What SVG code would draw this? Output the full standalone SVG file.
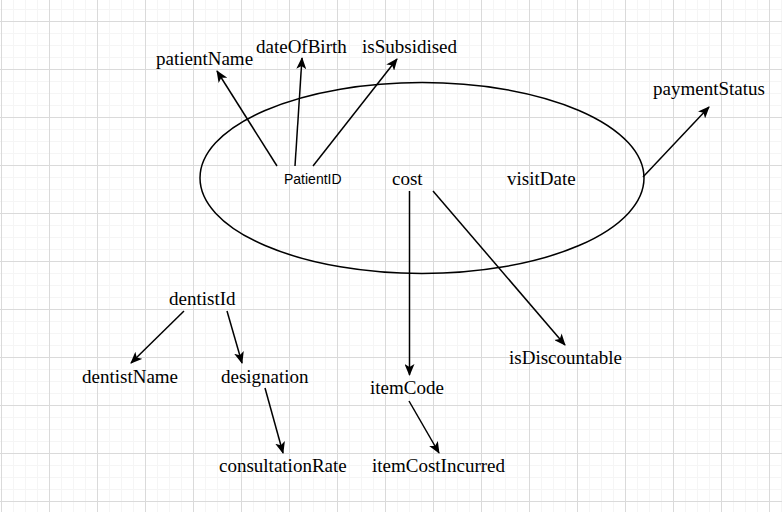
<svg xmlns="http://www.w3.org/2000/svg" width="782" height="512" viewBox="0 0 782 512">
<style>
.t{font-family:"Liberation Serif","Times New Roman",serif;font-size:19px;fill:#000}
.s{font-family:"Liberation Sans",Arial,sans-serif;font-size:14px;fill:#000}
.e{stroke:#000;stroke-width:1.5;fill:none;marker-end:url(#arr)}
</style>
<defs>
<marker id="arr" markerUnits="userSpaceOnUse" viewBox="0 0 12 10" markerWidth="12" markerHeight="10" refX="11" refY="5" orient="auto">
<path d="M0,0 L12,5 L0,10 L3,5 Z" fill="#000"/>
</marker>
<pattern id="grid" patternUnits="userSpaceOnUse" x="1" y="21" width="48" height="48">
<rect x="12" y="0" width="1" height="48" fill="#f5f5f5"/>
<rect x="24" y="0" width="1" height="48" fill="#f5f5f5"/>
<rect x="36" y="0" width="1" height="48" fill="#f5f5f5"/>
<rect x="0" y="12" width="48" height="1" fill="#f5f5f5"/>
<rect x="0" y="24" width="48" height="1" fill="#f5f5f5"/>
<rect x="0" y="36" width="48" height="1" fill="#f5f5f5"/>
<rect x="0" y="0" width="1" height="48" fill="#dadada"/>
<rect x="0" y="0" width="48" height="1" fill="#dadada"/>
</pattern>
</defs>
<rect width="782" height="512" fill="#fff"/>
<rect width="782" height="512" fill="url(#grid)"/>
<g id="visit"><ellipse cx="422" cy="178" rx="222" ry="95.5" fill="none" stroke="#000" stroke-width="1.5"/></g>
<g id="connectors">
<line class="e" x1="277" y1="166" x2="217" y2="71"/>
<line class="e" x1="295" y1="166" x2="302" y2="58"/>
<line class="e" x1="313" y1="166" x2="397" y2="59"/>
<line class="e" x1="409.5" y1="191" x2="409.5" y2="375"/>
<line class="e" x1="433" y1="191" x2="565" y2="345"/>
<line class="e" x1="643" y1="177" x2="709" y2="107"/>
<line class="e" x1="184" y1="311" x2="131" y2="363"/>
<line class="e" x1="227" y1="311" x2="242" y2="363"/>
<line class="e" x1="265" y1="388" x2="283" y2="453"/>
<line class="e" x1="409" y1="401" x2="439" y2="453"/>
</g>
<g id="patientID"><text class="s" x="284" y="184">PatientID</text></g>
<g id="patientName"><text class="t" x="156" y="65">patientName</text></g>
<g id="dateOfBirth"><text class="t" x="256" y="53">dateOfBirth</text></g>
<g id="isSubsidised"><text class="t" x="362" y="53">isSubsidised</text></g>
<g id="cost"><text class="t" x="392" y="185">cost</text></g>
<g id="visitDate"><text class="t" x="507" y="185">visitDate</text></g>
<g id="paymentStatus"><text class="t" x="653" y="95">paymentStatus</text></g>
<g id="isDiscountable"><text class="t" x="509" y="364">isDiscountable</text></g>
<g id="itemCode"><text class="t" x="370" y="394">itemCode</text></g>
<g id="itemCostIncurred"><text class="t" x="372" y="472">itemCostIncurred</text></g>
<g id="dentistId"><text class="t" x="169" y="305">dentistId</text></g>
<g id="dentistName"><text class="t" x="82" y="383">dentistName</text></g>
<g id="designation"><text class="t" x="221" y="383">designation</text></g>
<g id="consultationRate"><text class="t" x="219" y="472">consultationRate</text></g>
</svg>
